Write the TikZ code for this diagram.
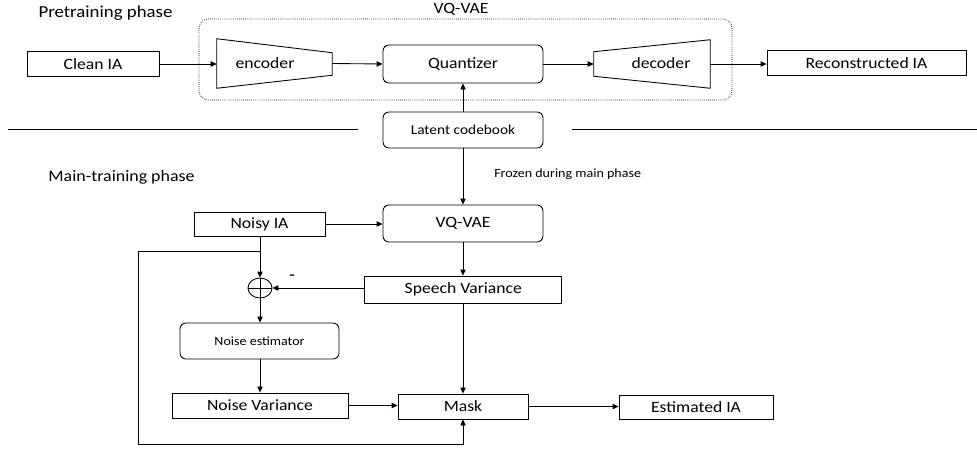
\documentclass[tikz,border=0pt]{standalone}
\usepackage{fontspec}
\setmainfont{Carlito}[FakeStretch=1.12]
\usetikzlibrary{arrows.meta,shapes.geometric}
\newcommand\setfs[1]{\fontsize{#1pt}{#1pt}\selectfont}
\tikzset{
  box/.style={draw, line width=0.65pt, inner sep=0pt, font=\setfs{11.8}},
  rbox/.style={box, rounded corners=4.5pt},
  arr/.style={-{Triangle[length=4.5pt,width=4pt]}, line width=0.65pt},
  plainline/.style={line width=0.7pt},
  caption/.style={inner sep=0pt, anchor=base},
}
\begin{document}
\begin{tikzpicture}[x=0.75pt, y=-0.75pt]
  \useasboundingbox (0,0) rectangle (977,450);

  % ---------- pretraining phase ----------
  \node[caption, font=\setfs{12.6}] (pretxt) at (105.5,17) {Pretraining phase};
  \node[caption, font=\setfs{11.8}] (vqlabel) at (461,13) {VQ-VAE};
  \draw[densely dotted, line width=0.55pt, rounded corners=7pt] (199,19) rectangle (732,100);

  \node[box, minimum width=99pt, minimum height=18.75pt] (clean) at (93,64) {Clean IA};

  % encoder trapezoid
  \node[inner sep=0pt, minimum width=86.25pt, minimum height=36.75pt] (enc) at (274.5,63.5) {};
  \draw[line width=0.65pt] (enc.north west) -- ([yshift=-10.5pt]enc.north east)
     -- ([yshift=9.75pt]enc.south east) -- (enc.south west) -- cycle;
  \node[inner sep=0pt, font=\setfs{11.8}] (enctxt) at (265,63.5) {encoder};

  \node[rbox, minimum width=120pt, minimum height=28.5pt] (quant) at (463,64) {Quantizer};

  % decoder trapezoid
  \node[inner sep=0pt, minimum width=87pt, minimum height=36pt] (dec) at (652,64) {};
  \draw[line width=0.65pt] ([yshift=-9pt]dec.north west) -- (dec.north east)
     -- (dec.south east) -- ([yshift=9pt]dec.south west) -- cycle;
  \node[inner sep=0pt, font=\setfs{11.8}] (dectxt) at (661,63.5) {decoder};

  \node[box, minimum width=149.25pt, minimum height=18.75pt] (recon) at (866.5,63) {Reconstructed IA};

  \draw[arr] (clean.east) -- (enc.west |- clean.east);
  \draw[arr] (enc.east) -- (quant.west);
  \draw[arr] (quant.east) -- (dec.west);
  \draw[arr] (dec.east) -- (recon.west |- dec.east);

  \node[rbox, font=\setfs{10.3}, minimum width=120pt, minimum height=27pt] (latent) at (463,130) {Latent codebook};
  \draw[arr] (latent.north) -- (quant.south);

  % phase separator
  \draw[plainline] (8,129) -- (358,129);
  \draw[plainline] (572,129) -- (977,129);

  % ---------- main-training phase ----------
  \node[caption, font=\setfs{12}] (maintxt) at (121.5,181) {Main-training phase};
  \node[inner sep=0pt, anchor=base west, font=\setfs{9.4}] (frozen) at (494,177) {Frozen during main phase};

  \node[rbox, minimum width=120pt, minimum height=27.75pt] (vq) at (463,223.5) {VQ-VAE};
  \node[box, minimum width=98.25pt, minimum height=18pt] (noisy) at (259.5,224) {Noisy IA};
  \node[box, minimum width=147.75pt, minimum height=20.25pt] (speech) at (463.3,289.5) {Speech Variance};
  \node[draw, line width=0.65pt, ellipse, inner sep=0pt, minimum width=18pt, minimum height=15pt] (sum) at (260,288) {};
  \draw[line width=0.65pt] (sum.north) -- (sum.south) (sum.west) -- (sum.east);
  \node[rbox, font=\setfs{9.4}, minimum width=119.25pt, minimum height=27pt] (est) at (259.5,341) {Noise estimator};
  \node[box, minimum width=132pt, minimum height=18.75pt] (nvar) at (260,405.5) {Noise Variance};
  \node[box, minimum width=97.5pt, minimum height=18.75pt] (mask) at (463,406.5) {Mask};
  \node[box, minimum width=115.5pt, minimum height=18pt] (estia) at (696,407) {Estimated IA};

  \draw[arr] (latent.south) -- (vq.north);
  \draw[arr] (noisy.east) -- (vq.west |- noisy.east);
  \draw[arr] (vq.south) -- (speech.north -| vq.south);
  \draw[arr] (noisy.south -| sum.north) -- (sum.north);
  \draw[arr] (speech.west |- sum.east) -- (sum.east);
  \node[inner sep=0pt, font=\setfs{13}] (minus) at (292,278) {-};
  \draw[arr] (sum.south) -- (est.north -| sum.south);
  \draw[arr] (est.south -| nvar.north) -- (nvar.north);
  \draw[arr] (speech.south -| mask.north) -- (mask.north);
  \draw[arr] (nvar.east) -- (mask.west |- nvar.east);
  \draw[arr] (mask.east) -- (estia.west |- mask.east);

  % feedback of the noisy input into the mask
  \coordinate (tap) at (260,251);
  \coordinate (loopcorner) at (138,444);
  \draw[arr] (tap) -| (loopcorner) -| (mask.south);
\end{tikzpicture}
\end{document}
